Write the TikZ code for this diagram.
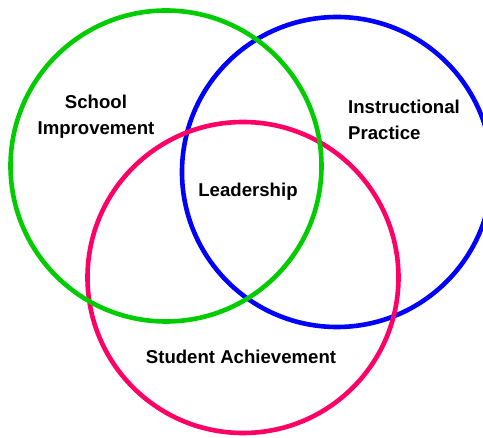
\documentclass[tikz,border=0pt]{standalone}
\usepackage{fontspec}
\setmainfont{Liberation Sans}
\definecolor{vgreen}{RGB}{0,204,0}
\definecolor{vblue}{RGB}{0,0,255}
\definecolor{vpink}{RGB}{255,0,102}
\begin{document}
\begin{tikzpicture}[x=1pt,y=-1pt,
  ring/.style={line width=4.6pt},
  lbl/.style={font=\fontsize{18.6}{26}\selectfont\bfseries, inner sep=0pt}]
\useasboundingbox (0,0) rectangle (483,438);
\clip (0,0) rectangle (483,438);
\node[ring, draw=vblue, circle, minimum size=310pt, inner sep=0pt] (blue) at (337,172) {};
\node[ring, draw=vpink, circle, minimum size=311pt, inner sep=0pt] (pink) at (243,277.5) {};
\node[ring, draw=vgreen, circle, minimum size=311pt, inner sep=0pt] (green) at (166,166) {};
\node[lbl, align=center] (school) at (96,117) {School\\Improvement};
\node[lbl, align=left, anchor=west] (instr) at (348,119.5) {Instructional\\Practice};
\node[lbl] (lead) at (248,192) {Leadership};
\node[lbl] (stud) at (241,357) {Student Achievement};
\end{tikzpicture}
\end{document}
